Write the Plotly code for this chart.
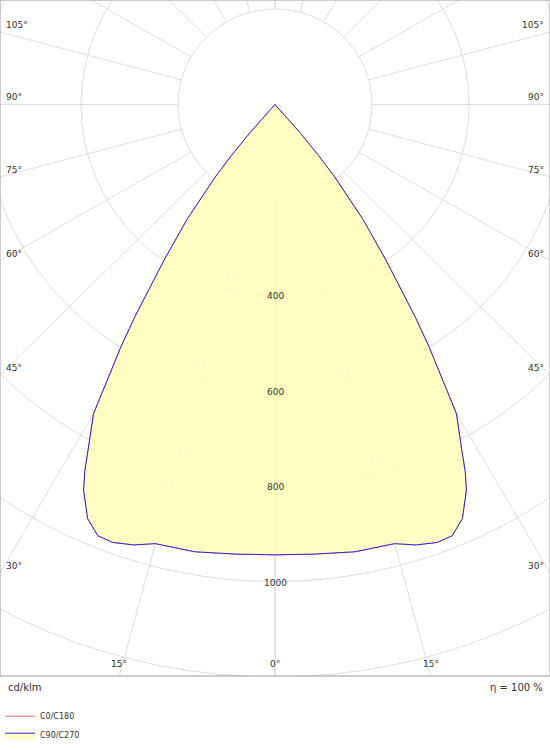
import numpy as np
import plotly.graph_objects as go

# luminous intensity (cd/klm) against angle from nadir, symmetric curve
angles = [0, 5, 10, 15, 17.5, 20, 22, 24, 26, 27, 28, 30, 32, 33, 35, 37, 39, 40, 41, 42]
c0_c180 = [944, 946, 952, 953, 968, 977, 975, 950, 900, 864, 820, 748, 600, 530, 400, 300, 196, 140, 80, 0]
c90_c270 = c0_c180[:]
ring_values = [200, 400, 600, 800, 1000, 1200, 1400]
ring_labels = [400, 600, 800, 1000]
spoke_angles = list(range(0, 181, 15))

XR = (-567, 567)
YR = (-1198, 219)


def to_xy(ang, r):
    a = np.radians(np.array(ang, dtype=float))
    r = np.array(r, dtype=float)
    return r * np.sin(a), -r * np.cos(a)


def closed(ang, r):
    full_a = [-a for a in ang[::-1]] + ang[1:]
    full_r = r[::-1] + r[1:]
    return to_xy(full_a, full_r)


fig = go.Figure()
shapes = []
for rv in ring_values:
    shapes.append(dict(type="circle", xref="x", yref="y", x0=-rv, x1=rv, y0=-rv, y1=rv,
                       line=dict(color="#dddddd", width=1), layer="below"))
for a in spoke_angles:
    for s in (1, -1):
        x0, y0 = to_xy([s * a], [200])
        x1, y1 = to_xy([s * a], [2000])
        shapes.append(dict(type="line", xref="x", yref="y", x0=x0[0], y0=y0[0], x1=x1[0], y1=y1[0],
                           line=dict(color="#dddddd", width=1), layer="below"))

x, y = closed(angles, c0_c180)
fig.add_trace(go.Scatter(x=x, y=y, mode="lines", line=dict(color="#ff6666", width=1),
                         name="C0/C180", hoverinfo="skip"))
x, y = closed(angles, c90_c270)
fig.add_trace(go.Scatter(x=x, y=y, mode="lines", line=dict(color="#3322dd", width=1),
                         fill="toself", fillcolor="rgba(255,255,180,0.8)",
                         name="C90/C270", hoverinfo="skip"))

ann = []
for rv in ring_labels:
    ann.append(dict(x=0, y=-rv, text=str(rv), showarrow=False, font=dict(size=9, color="#333"),
                    yshift=-1))
# angle labels where spokes meet the frame
for a in [30, 45, 60, 75, 90, 105]:
    d = np.radians(a)
    r = XR[1] / np.sin(d)
    yy = -r * np.cos(d)
    for s in (1, -1):
        ann.append(dict(x=s * (XR[1] - 8), y=yy, text=f"{a}°", showarrow=False,
                        xanchor="left" if s < 0 else "right", yanchor="bottom",
                        font=dict(size=9, color="#333")))
for a in [0, 15]:
    d = np.radians(a)
    xx = -YR[0] * np.tan(d)
    for s in ([1] if a == 0 else [1, -1]):
        ann.append(dict(x=s * xx, y=YR[0] + 10, text=f"{a}°", showarrow=False,
                        yanchor="bottom", font=dict(size=9, color="#333")))

ann.append(dict(xref="paper", yref="paper", x=0.01, y=-0.006, text="cd/klm", showarrow=False,
                xanchor="left", yanchor="top", font=dict(size=10, color="#333")))
ann.append(dict(xref="paper", yref="paper", x=0.99, y=-0.006, text="η = 100 %", showarrow=False,
                xanchor="right", yanchor="top", font=dict(size=10, color="#333")))

fig.update_layout(
    width=550, height=750, margin=dict(l=0, r=0, t=0, b=63),
    plot_bgcolor="white", paper_bgcolor="white",
    font=dict(family="DejaVu Sans"),
    shapes=shapes, annotations=ann,
    legend=dict(x=0.0, y=-0.038, xanchor="left", yanchor="top", font=dict(size=8, color="#333"),
                tracegroupgap=0, itemwidth=30, bgcolor="rgba(0,0,0,0)"),
    xaxis=dict(range=XR, visible=False, fixedrange=True),
    yaxis=dict(range=YR, visible=False, fixedrange=True),
)
fig.add_shape(type="rect", xref="paper", yref="paper", x0=0, x1=1, y0=0, y1=1,
              line=dict(color="#999999", width=1))
fig.write_html("out.html", config={"displayModeBar": False},
               post_script="document.body.style.margin='0';document.body.style.overflow='hidden';")
